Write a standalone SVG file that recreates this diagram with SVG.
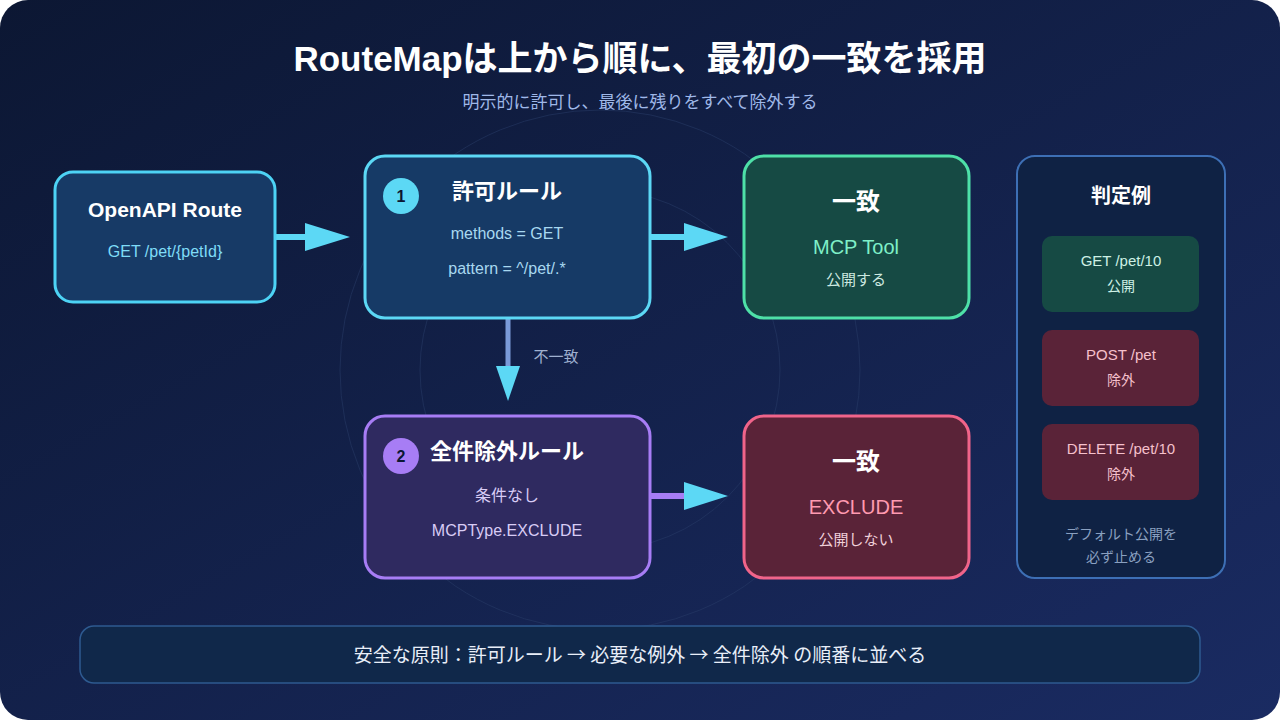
<svg xmlns="http://www.w3.org/2000/svg" width="1280" height="720" viewBox="0 0 1280 720">
<defs>
<linearGradient id="bg" x1="0" y1="0" x2="1" y2="1"><stop offset="0" stop-color="#0c1733"/><stop offset="1" stop-color="#1a2b62"/></linearGradient>
<style>
text{font-family:"Liberation Sans","Noto Sans CJK JP",sans-serif;text-anchor:middle}
.t{fill:#fff;font-weight:bold}
.s{font-size:16px}
.r{stroke-width:3}
</style>
</defs>
<rect width="1280" height="720" fill="#fff"/>
<rect width="1280" height="720" rx="28" fill="url(#bg)"/>
<circle cx="600" cy="370" r="260" fill="none" stroke="#2a3d6a" stroke-opacity="0.5"/>
<circle cx="600" cy="370" r="180" fill="none" stroke="#2a3d6a" stroke-opacity="0.5"/>
<text x="640" y="71" class="t" font-size="35">RouteMapは上から順に、最初の一致を採用</text>
<text x="640" y="108" fill="#9fb8e8" font-size="17">明示的に許可し、最後に残りをすべて除外する</text>
<g id="connectors">
<line x1="275" y1="237" x2="310" y2="237" stroke="#5cd8f5" stroke-width="6"/>
<polygon points="305,223 350,237 305,251" fill="#5cd8f5"/>
<line x1="650" y1="237" x2="690" y2="237" stroke="#5cd8f5" stroke-width="6"/>
<polygon points="684,223 728,237 684,251" fill="#5cd8f5"/>
<line x1="508" y1="318" x2="508" y2="370" stroke="#7a9ad8" stroke-width="5"/>
<polygon points="496,366 508,401 520,366" fill="#5cd8f5"/>
<text x="556" y="362" fill="#9fb0d0" font-size="15">不一致</text>
<line x1="650" y1="496" x2="690" y2="496" stroke="#a77df5" stroke-width="6"/>
<polygon points="684,482 728,496 684,510" fill="#5cd8f5"/>
</g>
<g id="openapi">
<rect x="55" y="172" width="220" height="130" rx="18" fill="#173a66" stroke="#4dd3f5" class="r"/>
<text x="165" y="217" class="t" font-size="21">OpenAPI Route</text>
<text x="165" y="257" fill="#7fdcf7" class="s">GET /pet/{petId}</text>
</g>
<g id="rule1">
<rect x="365" y="156" width="285" height="162" rx="20" fill="#163a66" stroke="#5cd8f5" class="r"/>
<circle cx="401" cy="196" r="18" fill="#5cd8f5"/>
<text x="401" y="202" font-size="16" font-weight="bold" fill="#0c1733">1</text>
<text x="507" y="199" class="t" font-size="22">許可ルール</text>
<text x="507" y="239" fill="#a8d8f0" class="s">methods = GET</text>
<text x="507" y="274" fill="#a8d8f0" class="s">pattern = ^/pet/.*</text>
</g>
<g id="match1">
<rect x="744" y="156" width="225" height="162" rx="20" fill="#164a44" stroke="#4ee0a8" class="r"/>
<text x="856" y="210" class="t" font-size="24">一致</text>
<text x="856" y="254" fill="#7ff0c8" font-size="20">MCP Tool</text>
<text x="856" y="285" fill="#cde8e0" font-size="15">公開する</text>
</g>
<g id="rule2">
<rect x="365" y="416" width="285" height="162" rx="20" fill="#2f2a60" stroke="#a77df5" class="r"/>
<circle cx="401" cy="456" r="18" fill="#a77df5"/>
<text x="401" y="462" font-size="16" font-weight="bold" fill="#0c1733">2</text>
<text x="507" y="459" class="t" font-size="22">全件除外ルール</text>
<text x="507" y="501" fill="#d8ccf5" class="s">条件なし</text>
<text x="507" y="536" fill="#d8ccf5" class="s">MCPType.EXCLUDE</text>
</g>
<g id="match2">
<rect x="744" y="416" width="225" height="162" rx="20" fill="#5a2338" stroke="#f0648a" class="r"/>
<text x="856" y="470" class="t" font-size="24">一致</text>
<text x="856" y="514" fill="#ff9ab0" font-size="20">EXCLUDE</text>
<text x="856" y="545" fill="#f0d0d8" font-size="15">公開しない</text>
</g>
<g id="examples">
<rect x="1017" y="156" width="208" height="422" rx="18" fill="#0f2244" stroke="#3d6fb5" stroke-width="2"/>
<text x="1121" y="203" class="t" font-size="20">判定例</text>
<rect x="1042" y="236" width="157" height="76" rx="10" fill="#164a44"/>
<text x="1121" y="266" fill="#cdf0e4" font-size="15">GET /pet/10</text>
<text x="1121" y="291" fill="#cdf0e4" font-size="14">公開</text>
<rect x="1042" y="330" width="157" height="76" rx="10" fill="#5a2338"/>
<text x="1121" y="360" fill="#f5c0cc" font-size="15">POST /pet</text>
<text x="1121" y="385" fill="#f5c0cc" font-size="14">除外</text>
<rect x="1042" y="424" width="157" height="76" rx="10" fill="#5a2338"/>
<text x="1121" y="454" fill="#f5c0cc" font-size="15">DELETE /pet/10</text>
<text x="1121" y="479" fill="#f5c0cc" font-size="14">除外</text>
<text x="1121" y="539" fill="#8aa0c0" font-size="14">デフォルト公開を</text>
<text x="1121" y="562" fill="#8aa0c0" font-size="14">必ず止める</text>
</g>
<g id="principle">
<rect x="80" y="626" width="1120" height="57" rx="14" fill="#10284a" stroke="#2e5a90" stroke-width="1.5"/>
<text x="640" y="662" fill="#e8eef8" font-size="19" style="font-family:'Noto Sans CJK JP',sans-serif">安全な原則：許可ルール → 必要な例外 → 全件除外 の順番に並べる</text>
</g>
</svg>
